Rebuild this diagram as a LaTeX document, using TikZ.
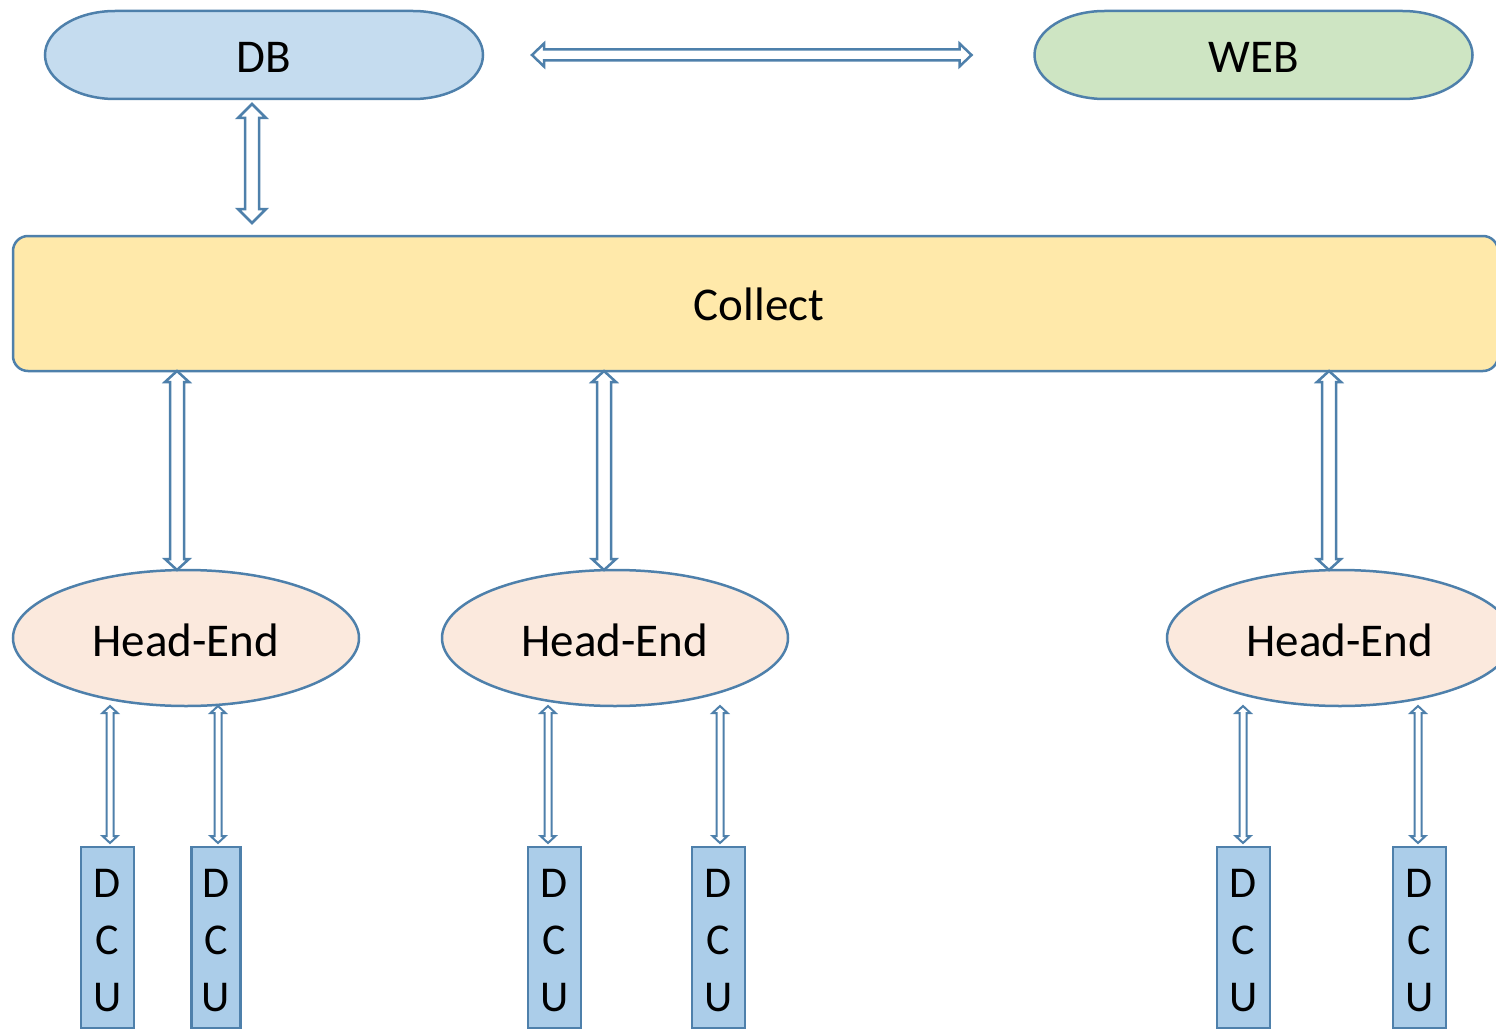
\documentclass[tikz,border=0pt]{standalone}
\usepackage{fontspec}
\setmainfont{Carlito}
\usetikzlibrary{calc,shapes.geometric,backgrounds}
\definecolor{edge}{HTML}{4E80AB}
\definecolor{dbfill}{HTML}{C5DCEF}
\definecolor{webfill}{HTML}{CEE5C3}
\definecolor{colfill}{HTML}{FFE9AA}
\definecolor{hefill}{HTML}{FBE9DD}
\definecolor{dcufill}{HTML}{ABCDE9}
\tikzset{
  every node/.style={inner sep=0pt, outer sep=0pt},
  bigtext/.style={font=\fontsize{47}{56}\selectfont},
  pillnode/.style={rectangle, minimum width=438pt, minimum height=88pt, bigtext},
  pillshape/.style={draw=edge, line width=2.5pt},
  collectbox/.style={rectangle, rounded corners=15pt, draw=edge, line width=2.5pt, fill=colfill,
    minimum width=1485pt, minimum height=135pt, bigtext},
  headend/.style={ellipse, draw=edge, line width=2.5pt, fill=hefill,
    minimum width=346pt, minimum height=136pt, bigtext},
  dcubox/.style={rectangle, draw=edge, line width=2.5pt, fill=dcufill, minimum width=53pt,
    minimum height=181pt, align=center, font=\fontsize{44}{58}\selectfont},
  blockarr/.style={draw=edge, fill=white, line width=2.5pt, line join=miter},
  smallarr/.style={blockarr, line width=2pt},
}
\newcommand\lowered[2]{\raisebox{-#1}[\height][\depth]{#2}}
\newcommand\dcutext{\lowered{3pt}{\shortstack{D\\[25pt]C\\[25pt]U}}}
% vertical hollow double arrow: top, bottom, shaft half, head half, head length, style
\newcommand\varrow[6]{%
  \draw[#6] let \p1=(#1), \p2=(#2) in
   (\x1,\y1) -- (\x1+#4,\y1-#5) -- (\x1+#3,\y1-#5) -- (\x1+#3,\y2+#5) -- (\x1+#4,\y2+#5)
   -- (\x1,\y2) -- (\x1-#4,\y2+#5) -- (\x1-#3,\y2+#5) -- (\x1-#3,\y1-#5) -- (\x1-#4,\y1-#5) -- cycle;}
% horizontal hollow double arrow: left, right, shaft half, head half, head length, style
\newcommand\harrow[6]{%
  \draw[#6] let \p1=(#1), \p2=(#2) in
   (\x1,\y1) -- (\x1+#5,\y1+#4) -- (\x1+#5,\y1+#3) -- (\x2-#5,\y1+#3) -- (\x2-#5,\y1+#4)
   -- (\x2,\y1) -- (\x2-#5,\y1-#4) -- (\x2-#5,\y1-#3) -- (\x1+#5,\y1-#3) -- (\x1+#5,\y1-#4) -- cycle;}
\newcommand\pillpath[2]{%
  \path[pillshape, fill=#2] ($(#1.north west)+(70,0)$) -- ($(#1.north east)+(-70,0)$)
   arc[start angle=90, end angle=-90, x radius=70pt, y radius=44pt]
   -- ($(#1.south west)+(70,0)$)
   arc[start angle=270, end angle=90, x radius=70pt, y radius=44pt] -- cycle;}
\begin{document}
\begin{tikzpicture}[x=1pt, y=-1pt]
\useasboundingbox (0,0) rectangle (1496,1030);
\clip (0,0) rectangle (1496,1030);

% top row
\node[pillnode] (DB) at (264,55) {\lowered{2pt}{DB}};
\node[pillnode] (WEB) at (1253.5,55) {\lowered{2pt}{WEB}};
\begin{scope}[on background layer]
  \pillpath{DB}{dbfill}
  \pillpath{WEB}{webfill}
\end{scope}

% collect
\node[collectbox] (Collect) at (755.5,303.5) {\hspace*{7pt}\lowered{1pt}{Collect}};

% head-ends
\node[headend] (HE1) at (186,638) {\lowered{2pt}{Head-End}};
\node[headend] (HE2) at (615,638) {\lowered{2pt}{Head-End}};
\node[headend] (HE3) at (1340,638) {\lowered{2pt}{Head-End}};

% DCUs
\node[dcubox] (D1) at (107.5,937.5) {\dcutext};
\node[dcubox, minimum width=49pt] (D2) at (216,937.5) {\dcutext};
\node[dcubox] (D3) at (554.5,937.5) {\dcutext};
\node[dcubox] (D4) at (718.5,937.5) {\dcutext};
\node[dcubox] (D5) at (1243.5,937.5) {\dcutext};
\node[dcubox] (D6) at (1419.5,937.5) {\dcutext};

% connectors
\harrow{$(DB.east)+(49,0)$}{$(WEB.west)+(-63,0)$}{5.5pt}{11.5pt}{12pt}{blockarr}
\varrow{$(DB.south)+(-12,5)$}{$(DB.south |- Collect.north)+(-12,-13)$}{7pt}{14pt}{14pt}{blockarr}

\varrow{$(Collect.south -| HE1.north)+(-9,0)$}{$(HE1.north)+(-9,0)$}{7pt}{12pt}{11pt}{blockarr}
\varrow{$(Collect.south -| HE2.north)+(-11,0)$}{$(HE2.north)+(-11,0)$}{7pt}{12pt}{11pt}{blockarr}
\varrow{$(Collect.south -| HE3.north)+(-11,0)$}{$(HE3.north)+(-11,0)$}{7pt}{12pt}{11pt}{blockarr}

\varrow{$(HE1.south -| D1.north)+(2.5,0)$}{$(D1.north)+(2.5,-4)$}{3.5pt}{7.5pt}{7pt}{smallarr}
\varrow{$(HE1.south -| D2.north)+(2,0)$}{$(D2.north)+(2,-4)$}{3.5pt}{7.5pt}{7pt}{smallarr}
\varrow{$(HE2.south -| D3.north)+(-6.5,0)$}{$(D3.north)+(-6.5,-4)$}{3.5pt}{7.5pt}{7pt}{smallarr}
\varrow{$(HE2.south -| D4.north)+(1.5,0)$}{$(D4.north)+(1.5,-4)$}{3.5pt}{7.5pt}{7pt}{smallarr}
\varrow{$(HE3.south -| D5.north)+(-0.5,0)$}{$(D5.north)+(-0.5,-4)$}{3.5pt}{7.5pt}{7pt}{smallarr}
\varrow{$(HE3.south -| D6.north)+(-1.5,0)$}{$(D6.north)+(-1.5,-4)$}{3.5pt}{7.5pt}{7pt}{smallarr}
\end{tikzpicture}
\end{document}
